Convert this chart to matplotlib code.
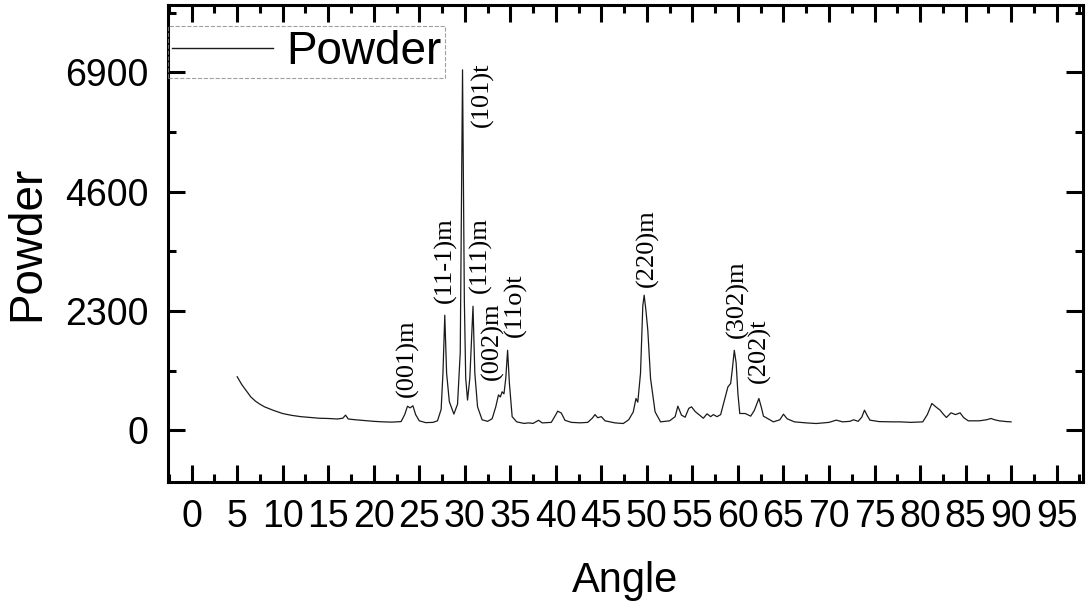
import matplotlib
matplotlib.use('Agg')
import matplotlib.pyplot as plt
from matplotlib.ticker import MultipleLocator

# digitised XRD pattern (2theta, counts)
angle = [5.0, 5.5, 6.0, 6.5, 7.0, 7.5, 8.0, 9.0, 10.0, 11.0, 12.0, 13.0, 14.0, 15.0,
         16.0, 16.6, 16.9, 17.2, 18.0, 19.0, 20.0, 21.0, 22.0, 23.0, 23.4, 23.7,
         24.0, 24.3, 24.6, 25.0, 25.7, 26.5, 27.0, 27.4, 27.6, 27.8, 28.0, 28.3,
         28.8, 29.2, 29.5, 29.75, 29.95, 30.1, 30.3, 30.55, 30.75, 30.9, 31.1,
         31.4, 31.9, 32.5, 33.0, 33.4, 33.7, 33.9, 34.1, 34.3, 34.5, 34.7, 34.9,
         35.2, 35.7, 36.5, 37.0, 37.5, 38.1, 38.5, 39.5, 40.0, 40.2, 40.6, 41.0,
         41.7, 42.7, 43.5, 44.0, 44.3, 44.6, 45.0, 45.4, 46.5, 47.4, 48.0, 48.5,
         48.8, 49.0, 49.3, 49.55, 49.7, 49.9, 50.1, 50.4, 50.9, 51.5, 52.5, 53.1,
         53.4, 53.8, 54.2, 54.6, 54.9, 55.3, 55.8, 56.2, 56.6, 57.0, 57.3, 57.7,
         58.1, 58.4, 58.9, 59.2, 59.4, 59.6, 59.8, 60.0, 60.2, 60.8, 61.4, 61.8,
         62.3, 62.6, 62.8, 63.9, 64.6, 65.0, 65.4, 66.2, 67.5, 68.6, 70.0, 70.8,
         71.5, 72.3, 72.7, 73.2, 73.6, 73.9, 74.2, 74.5, 75.5, 77.0, 77.8, 79.0,
         80.3, 80.8, 81.3, 81.8, 82.2, 82.6, 82.9, 83.4, 83.9, 84.4, 84.8, 85.3,
         86.5, 87.3, 87.8, 88.2, 88.7, 89.5, 90.0]
powder = [1030, 880, 760, 640, 560, 500, 450, 380, 320, 285, 260, 245, 230, 225,
          215, 230, 290, 215, 200, 185, 170, 160, 155, 165, 300, 460,
          430, 470, 300, 180, 145, 150, 180, 400, 1100, 2217, 1100, 550,
          310, 500, 1500, 6950, 2500, 1000, 580, 1000, 1800, 2390, 1100,
          450, 200, 170, 220, 450, 680, 640, 740, 700, 1000, 1540, 900,
          260, 160, 130, 140, 130, 190, 140, 150, 300, 366, 330, 190,
          150, 141, 150, 230, 300, 240, 260, 180, 140, 128, 200, 350,
          611, 540, 1100, 2400, 2603, 2300, 1928, 1000, 353, 160, 180, 260,
          463, 289, 250, 420, 450, 360, 289, 230, 315, 260, 300, 260,
          300, 500, 835, 900, 1200, 1540, 1300, 700, 321, 321, 270, 380,
          611, 420, 270, 160, 200, 308, 220, 160, 140, 128, 150, 193,
          160, 170, 200, 170, 250, 386, 280, 193, 165, 160, 160, 150,
          160, 300, 514, 440, 386, 300, 244, 334, 300, 334, 240, 180,
          180, 200, 225, 200, 180, 165, 160]

# peak assignments and where their labels sit
hkl_labels = ['(001)m', '(11-1)m', '(101)t', '(111)m', '(002)m', '(11o)t',
              '(220)m', '(302)m', '(202)t']
hkl_x = [23.7, 27.9, 31.9, 31.7, 33.0, 35.6, 50.0, 59.9, 62.4]
hkl_y = [640, 2450, 5840, 2640, 960, 1790, 2760, 1770, 900]

x_ticks = list(range(0, 100, 5))
y_ticks = [0, 2300, 4600, 6900]

plt.rcParams['font.family'] = ['Liberation Sans', 'DejaVu Sans']

fig = plt.figure(figsize=(10.86, 6.15), dpi=100)
ax = fig.add_axes([168 / 1086, 1 - 482 / 615, 915 / 1086, 477 / 615])

ax.plot(angle, powder, color='#1a1a1a', lw=0.9, label='Powder')

for lab, hx, hy in zip(hkl_labels, hkl_x, hkl_y):
    ax.text(hx, hy, lab, rotation=90, ha='center', va='bottom',
            fontsize=19, family='Liberation Serif', color='black')

ax.set_xlim(-2.6, 97.9)
ax.set_ylim(-1000, 8200)
ax.set_xticks(x_ticks)
ax.set_yticks(y_ticks)
ax.xaxis.set_minor_locator(MultipleLocator(2.5))
ax.yaxis.set_minor_locator(MultipleLocator(1150))

ax.tick_params(which='both', direction='in', top=True, right=True, width=2.2)
ax.tick_params(which='major', length=12, labelsize=27)
ax.tick_params(axis='x', which='major', pad=12)
ax.tick_params(axis='y', which='major', pad=14)
ax.tick_params(which='minor', length=6)
ax.tick_params(top=True, right=True, labeltop=False, labelright=False)
for s in ax.spines.values():
    s.set_linewidth(2.2)

ax.set_xlabel('Angle', fontsize=30)
ax.set_ylabel('Powder', fontsize=33)
ax.xaxis.set_label_coords(0.5, -0.165)
ax.yaxis.set_label_coords(-0.13, 0.5)

leg = ax.legend(loc='upper left', bbox_to_anchor=(0, 0.955), fontsize=33,
                frameon=True, fancybox=False, borderaxespad=0, borderpad=0.08,
                handlelength=2.2, handletextpad=0.3)
leg.get_frame().set_facecolor('none')
leg.get_frame().set_edgecolor('#888888')
leg.get_frame().set_linewidth(0.8)
leg.get_frame().set_linestyle('--')
leg.get_lines()[0].set_linewidth(1.0)

fig.savefig('out.png', dpi=100)
